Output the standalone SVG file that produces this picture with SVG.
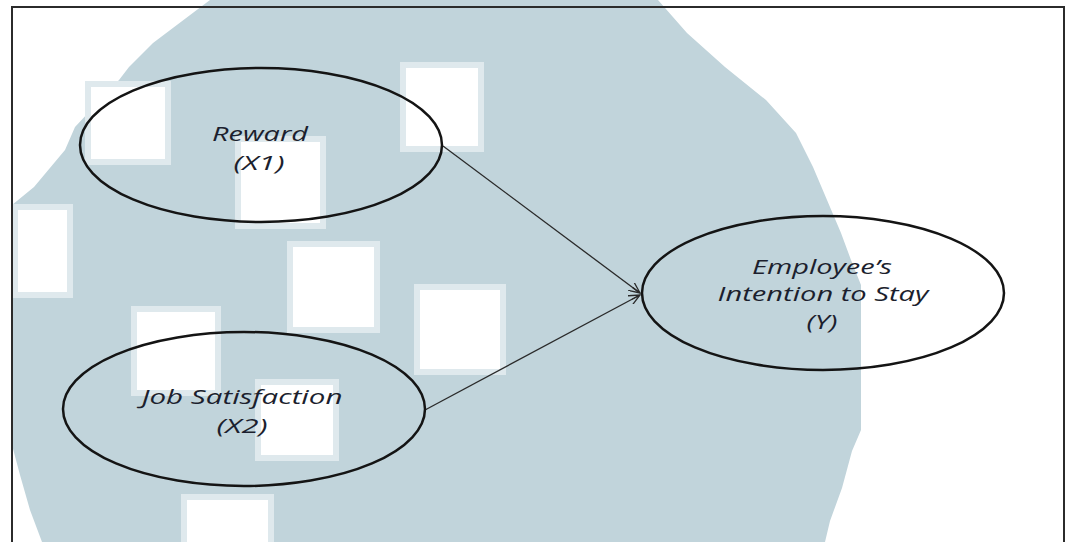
<svg xmlns="http://www.w3.org/2000/svg" width="1068" height="542" viewBox="0 0 1068 542">
<defs>
<style>
.node{fill:none;stroke:#141414;stroke-width:2.5}
.lbl{font-family:"Open Sans","Liberation Sans",sans-serif;font-style:italic;font-size:20px;fill:#1c1f2e;text-anchor:middle}
.edge{stroke:#2a2a2a;stroke-width:1.3;fill:none}
.wm{fill:#ffffff;stroke:#dfe9ed;stroke-width:6}
</style>
<marker id="arr" viewBox="0 0 12 10" refX="11" refY="5" markerWidth="12" markerHeight="10" markerUnits="userSpaceOnUse" orient="auto">
<path d="M0,0 L11,5 L0,10 M2,5 L11,5" fill="none" stroke="#2a2a2a" stroke-width="1.3"/>
</marker>
</defs>
<rect width="1068" height="542" fill="#ffffff"/>
<g id="watermark">
<polygon fill="#c1d4db" points="210,0 658,0 687,33 725,67 766,100 796,133 813,167 827,200 841,233 851,260 861,285 861,430 852,451 842,488 830,521 825,542 42,542 30,510 20,475 12,445 12,205 34,187 65,150 75,127 119,80 129,67 153,43"/>
<rect class="wm" x="403" y="65" width="78" height="84"/>
<rect class="wm" x="88" y="84" width="80" height="78"/>
<rect class="wm" x="238" y="139" width="85" height="87"/>
<rect class="wm" x="290" y="244" width="87" height="86"/>
<rect class="wm" x="15" y="207" width="55" height="88"/>
<rect class="wm" x="134" y="309" width="84" height="84"/>
<rect class="wm" x="417" y="287" width="86" height="85"/>
<rect class="wm" x="258" y="382" width="78" height="76"/>
<rect class="wm" x="184" y="497" width="87" height="50"/>
</g>
<rect x="12" y="7" width="1052" height="545" fill="none" stroke="#2b2b2b" stroke-width="2"/>
<g id="connectors">
<line class="edge" x1="443" y1="146" x2="640" y2="293" marker-end="url(#arr)"/>
<line class="edge" x1="425" y1="410" x2="640" y2="295" marker-end="url(#arr)"/>
</g>
<g id="reward">
<ellipse class="node" cx="261" cy="145" rx="181" ry="77"/>
<text class="lbl" x="260" y="141" textLength="96" lengthAdjust="spacingAndGlyphs">Reward</text>
<text class="lbl" x="259" y="170" textLength="51" lengthAdjust="spacingAndGlyphs">(X1)</text>
</g>
<g id="job-satisfaction">
<ellipse class="node" cx="244" cy="409" rx="181" ry="77"/>
<text class="lbl" x="242" y="404" textLength="201" lengthAdjust="spacingAndGlyphs">Job Satisfaction</text>
<text class="lbl" x="242" y="433" textLength="51" lengthAdjust="spacingAndGlyphs">(X2)</text>
</g>
<g id="intention-to-stay">
<ellipse class="node" cx="823" cy="293" rx="181" ry="77"/>
<text class="lbl" x="822" y="274" textLength="140" lengthAdjust="spacingAndGlyphs">Employee’s</text>
<text class="lbl" x="823" y="301" textLength="211" lengthAdjust="spacingAndGlyphs">Intention to Stay</text>
<text class="lbl" x="822" y="329" textLength="31" lengthAdjust="spacingAndGlyphs">(Y)</text>
</g>
</svg>
